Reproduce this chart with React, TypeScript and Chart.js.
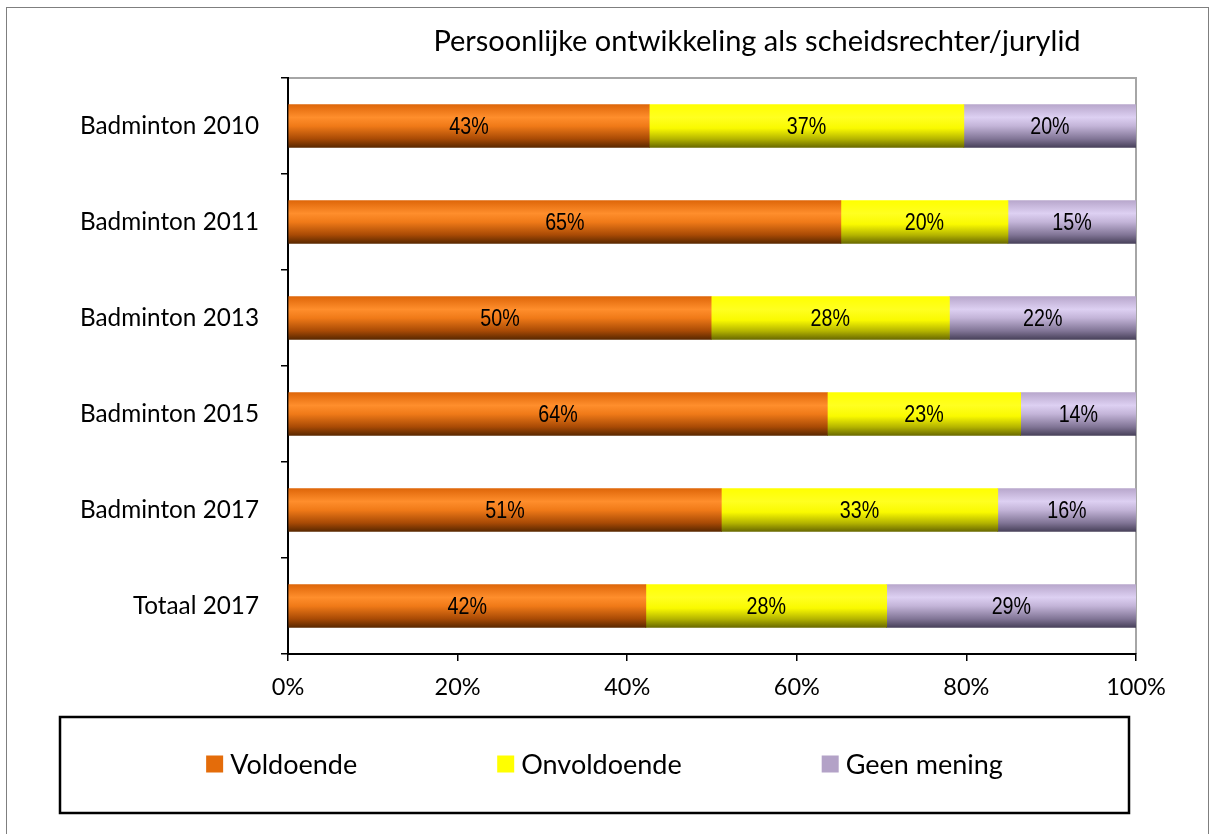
import React, { useEffect, useRef } from "react";
import { Chart, registerables } from "chart.js";

Chart.register(...registerables);

const categories = [
  "Badminton 2010",
  "Badminton 2011",
  "Badminton 2013",
  "Badminton 2015",
  "Badminton 2017",
  "Totaal 2017",
];
const seriesNames = ["Voldoende", "Onvoldoende", "Geen mening"];
const voldoende = [42.6, 65.2, 49.9, 63.6, 51.1, 42.2];
const onvoldoende = [37.1, 19.7, 28.1, 22.8, 32.6, 28.4];
const geenMening = [20.3, 15.1, 22.0, 13.6, 16.3, 29.4];
const xTickValues = [0, 20, 40, 60, 80, 100];
const titleText = "Persoonlijke ontwikkeling als scheidsrechter/jurylid";

const solidColors = ["#e46c0a", "#ffff00", "#b3a2c7"];
const gradientStops: [number, string][][] = [
  [
    [0, "#de6609"],
    [0.3, "#ff8e2c"],
    [0.5, "#f07a18"],
    [0.8, "#a84a05"],
    [1, "#5a2800"],
  ],
  [
    [0, "#ffff00"],
    [0.3, "#ffff20"],
    [0.55, "#fafa00"],
    [0.8, "#b5b500"],
    [1, "#6a6a00"],
  ],
  [
    [0, "#b8a7cc"],
    [0.3, "#ddd0f2"],
    [0.5, "#c3b4d8"],
    [0.8, "#817596"],
    [1, "#48415a"],
  ],
];

const BAR_THICKNESS = 43;
const LATO = "Lato, 'Open Sans', sans-serif";

function makeBg(i: number) {
  return (ctx: any) => {
    const chart = ctx.chart;
    const ys = chart.scales && chart.scales.y;
    if (!ys || ctx.type !== "data") return solidColors[i];
    const yc = ys.getPixelForValue(ctx.dataIndex);
    if (!Number.isFinite(yc)) return solidColors[i];
    const g = chart.ctx.createLinearGradient(0, yc - BAR_THICKNESS / 2, 0, yc + BAR_THICKNESS / 2);
    gradientStops[i].forEach(([o, c]) => g.addColorStop(o, c));
    return g;
  };
}

const framePlugin = {
  id: "frame",
  beforeDraw(chart: any) {
    const { ctx, chartArea } = chart;
    ctx.save();
    ctx.fillStyle = "#ffffff";
    ctx.fillRect(0, 0, chart.width, chart.height);
    ctx.strokeStyle = "#7f7f7f";
    ctx.lineWidth = 1;
    ctx.strokeRect(6.5, 7.5, 1202, 840);
    ctx.strokeStyle = "#a6a6a6";
    ctx.lineWidth = 2;
    ctx.beginPath();
    ctx.moveTo(chartArea.left, chartArea.top);
    ctx.lineTo(chartArea.right, chartArea.top);
    ctx.lineTo(chartArea.right, chartArea.bottom);
    ctx.stroke();
    ctx.fillStyle = "#000";
    ctx.font = `29px ${LATO}`;
    ctx.textAlign = "center";
    ctx.textBaseline = "middle";
    ctx.fillText(titleText, 757, 42);
    ctx.restore();
  },
  afterDraw(chart: any) {
    const { ctx } = chart;
    ctx.save();
    ctx.strokeStyle = "#000";
    ctx.lineWidth = 2.5;
    ctx.strokeRect(60, 717, 1069, 96);
    ctx.font = `27px ${LATO}`;
    ctx.textBaseline = "middle";
    ctx.textAlign = "left";
    const box = 17;
    const gapBoxText = 7;
    const gapItems = 140;
    const widths = seriesNames.map((n) => box + gapBoxText + ctx.measureText(n).width);
    const total = widths.reduce((a, b) => a + b, 0) + gapItems * (widths.length - 1);
    let x = chart.width / 2 - total / 2;
    const yc = 764;
    seriesNames.forEach((n, i) => {
      ctx.fillStyle = solidColors[i];
      ctx.fillRect(x, yc - box / 2, box, box);
      ctx.fillStyle = "#000";
      ctx.fillText(n, x + box + gapBoxText, yc + 1);
      x += widths[i] + gapItems;
    });
    ctx.restore();
  },
  afterDatasetsDraw(chart: any) {
    const { ctx } = chart;
    ctx.save();
    ctx.fillStyle = "#000";
    ctx.font = "24px 'Liberation Sans', Arial, sans-serif";
    ctx.textAlign = "center";
    ctx.textBaseline = "middle";
    chart.data.datasets.forEach((ds: any, i: number) => {
      const meta = chart.getDatasetMeta(i);
      meta.data.forEach((bar: any, j: number) => {
        const p = bar.getProps(["x", "y", "base"], true);
        const cx = (p.x + p.base) / 2;
        const txt = Math.round(ds.data[j]) + "%";
        ctx.save();
        ctx.translate(cx, p.y + 1);
        ctx.scale(0.82, 1);
        ctx.fillText(txt, 0, 0);
        ctx.restore();
      });
    });
    ctx.restore();
  },
};

export default function App() {
  const ref = useRef<HTMLCanvasElement | null>(null);
  useEffect(() => {
    if (!ref.current) return;
    const seriesValues = [voldoende, onvoldoende, geenMening];
    const chart = new Chart(ref.current, {
      type: "bar",
      data: {
        labels: categories,
        datasets: seriesValues.map((vals, i) => ({
          label: seriesNames[i],
          data: vals,
          backgroundColor: makeBg(i),
          borderWidth: 0,
          barThickness: BAR_THICKNESS,
        })),
      },
      options: {
        indexAxis: "y",
        responsive: false,
        animation: false,
        devicePixelRatio: 1,
        layout: { padding: { top: 78, right: 73, bottom: 0, left: 0 } },
        plugins: {
          legend: { display: false },
          title: { display: false },
          tooltip: { enabled: false },
        },
        scales: {
          x: {
            stacked: true,
            min: 0,
            max: 100,
            afterBuildTicks(scale: any) {
              scale.ticks = xTickValues.map((v) => ({ value: v }));
            },
            ticks: {
              callback: (v: any) => v + "%",
              color: "#000",
              font: { family: LATO, size: 23.5 },
              padding: 12,
              maxRotation: 0,
            },
            grid: {
              drawOnChartArea: false,
              drawTicks: true,
              tickLength: 7,
              color: "#000",
              lineWidth: 1.5,
            },
            border: { display: true, color: "#000", width: 2 },
            afterFit(scale: any) {
              scale.height = 180;
            },
          },
          y: {
            stacked: true,
            ticks: {
              color: "#000",
              font: { family: LATO, size: 24.3 },
              padding: 22,
            },
            grid: {
              offset: true,
              drawOnChartArea: false,
              drawTicks: true,
              tickLength: 7,
              color: "#000",
              lineWidth: 1.5,
            },
            border: { display: true, color: "#000", width: 2 },
            afterFit(scale: any) {
              scale.width = 288;
            },
          },
        },
      } as any,
      plugins: [framePlugin],
    });
    return () => chart.destroy();
  }, []);
  return (
    <div style={{ position: "absolute", left: 0, top: 0, width: 1209, height: 834 }}>
      <canvas ref={ref} width={1209} height={834} style={{ display: "block" }} />
    </div>
  );
}
